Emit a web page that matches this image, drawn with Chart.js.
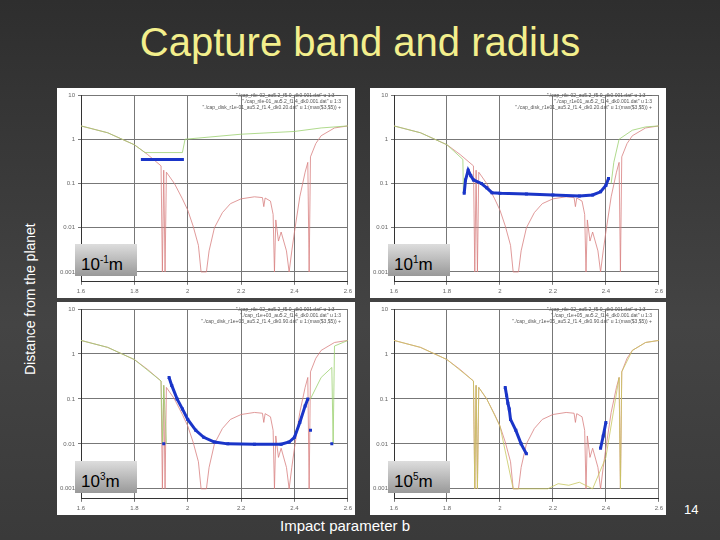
<!DOCTYPE html>
<html><head><meta charset="utf-8">
<script src="https://cdn.jsdelivr.net/npm/chart.js@4"></script>
<style>
body{margin:0;width:720px;height:540px;background:linear-gradient(#2e2e2e,#444 60%,#3a3a3a);font-family:"Liberation Sans",Arial,sans-serif;position:relative;overflow:hidden}
.t{position:absolute;color:#fff}
.p{position:absolute;background:#fff}
.lab{position:absolute;left:18px;bottom:22px;width:56px;height:32px;background:linear-gradient(#ddd,#999);font-size:17px;line-height:32px;padding-left:6px;color:#000}
.lg{position:absolute;right:14px;top:4px;font-size:5px;color:#555;text-align:right;line-height:6px}
</style></head><body>
<div class="t" style="left:0;width:720px;top:20px;text-align:center;font-size:40px;color:#f3ef8c">Capture band and radius</div>
<div class="t" style="left:22px;top:375px;transform:rotate(-90deg);transform-origin:0 0;font-size:14px;white-space:nowrap">Distance from the planet</div>
<div class="t" style="left:280px;top:517px;font-size:15px">Impact parameter b</div>
<div class="t" style="left:684px;top:502px;font-size:13px">14</div>
<div class="p" style="left:57px;top:88px;width:298px;height:210px"><canvas id="c1"></canvas><div class="lab">10<sup style="font-size:10px">-1</sup>m</div><div class="lg">"./cap_rile-02_au5.2_f5.0_dk0.001.dat" u 1:3 —<br>"./cap_rile-01_au5.2_f1.4_dk0.001.dat" u 1:3<br>"./cap_disk_r1e-01_au5.2_f1.4_dk0.20.dat" u 1:(max($3,$5)) +</div></div>
<div class="p" style="left:370px;top:88px;width:296px;height:210px"><canvas id="c2"></canvas><div class="lab">10<sup style="font-size:10px">1</sup>m</div><div class="lg">"./cap_rile-02_au5.2_f5.0_dk0.001.dat" u 1:3 —<br>"./cap_r1e01_au5.2_f1.4_dk0.001.dat" u 1:3<br>"./cap_disk_r1e01_au5.2_f1.4_dk0.20.dat" u 1:(max($3,$5)) +</div></div>
<div class="p" style="left:57px;top:302px;width:298px;height:213px"><canvas id="c3"></canvas><div class="lab">10<sup style="font-size:10px">3</sup>m</div><div class="lg">"./cap_rile-02_au5.2_f5.0_dk0.001.dat" u 1:3 —<br>"./cap_r1e+03_au5.2_f1.4_dk0.001.dat" u 1:3<br>"./cap_disk_r1e+03_au5.2_f1.4_dk0.90.dat" u 1:(max($3,$5)) +</div></div>
<div class="p" style="left:370px;top:302px;width:296px;height:213px"><canvas id="c4"></canvas><div class="lab">10<sup style="font-size:10px">5</sup>m</div><div class="lg">"./cap_rile-02_au5.2_f5.0_dk0.001.dat" u 1:3 —<br>"./cap_r1e+05_au5.2_f1.4_dk0.001.dat" u 1:3<br>"./cap_disk_r1e+05_au5.2_f1.4_dk0.90.dat" u 1:(max($3,$5)) +</div></div>
<script>
// red: reference curve, same in every panel
const redX = [1.6,1.7,1.8,1.85,1.9,1.905,1.91,1.915,1.92,1.95,1.98,2.0,2.02,2.04,2.05,2.07,2.08,2.1,2.13,2.16,2.2,2.25,2.28,2.285,2.29,2.31,2.32,2.325,2.33,2.34,2.35,2.37,2.38,2.39,2.4,2.42,2.44,2.45,2.455,2.46,2.48,2.5,2.55,2.6];
const redY = [2,1.4,0.75,0.45,0.25,0.001,0.2,0.001,0.18,0.1,0.045,0.025,0.011,0.004,0.001,0.001,0.003,0.01,0.022,0.035,0.045,0.05,0.048,0.03,0.047,0.04,0.02,0.001,0.015,0.005,0.008,0.003,0.001,0.003,0.008,0.05,0.18,0.3,0.001,0.4,0.8,1.2,1.8,2];

const g1X = [1.6,1.7,1.8,1.84,1.98,1.99,2.2,2.4,2.5,2.6];
const g1Y = [2,1.4,0.75,0.5,0.5,1.0,1.3,1.5,1.8,2];
const b1X = [1.83,1.98];
const b1Y = [0.35,0.35];

const g2X = [1.6,1.7,1.8,1.86,1.862,1.87,2.41,2.42,2.43,2.45,2.5,2.55,2.6];
const g2Y = [2,1.4,0.75,0.35,0.06,null,null,0.1,0.3,1.0,1.6,1.9,2];
const b2X = [1.865,1.87,1.88,1.89,1.9,1.93,1.95,1.97,2.0,2.1,2.2,2.3,2.35,2.38,2.4,2.41];
const b2Y = [0.06,0.12,0.2,0.15,0.12,0.1,0.08,0.062,0.06,0.058,0.055,0.052,0.055,0.065,0.09,0.13];

const g3X = [1.6,1.7,1.8,1.9,1.905,1.91,1.92,1.93,2.45,2.46,2.5,2.54,2.545,2.55,2.6];
const g3Y = [2,1.4,0.75,0.25,0.01,0.2,0.01,null,null,0.1,0.3,0.5,0.01,1.5,2];
const b3X = [1.91,null,1.93,1.94,1.96,1.98,2.0,2.03,2.06,2.1,2.15,2.25,2.35,2.38,2.4,2.42,2.44,2.45,null,2.46,null,2.54];
const b3Y = [0.01,null,0.3,0.2,0.1,0.06,0.035,0.02,0.014,0.011,0.01,0.0098,0.0098,0.011,0.014,0.03,0.07,0.1,null,0.02,null,0.01];

const g4X = [1.6,1.7,1.8,1.9,1.905,1.91,1.915,1.92,1.95,2.0,2.05,2.18,2.22,2.26,2.3,2.35,2.4,2.45,2.455,2.46,2.5,2.55,2.6];
const g4Y = [2,1.4,0.75,0.25,0.001,0.2,0.001,0.18,0.1,0.025,0.001,0.001,0.0013,0.0012,0.0014,0.001,0.005,0.3,0.001,0.4,1.2,1.8,2];
const b4X = [2.02,2.025,2.03,2.035,2.04,2.06,2.08,2.1,null,2.38,2.39,2.4];
const b4Y = [0.18,0.12,0.08,0.06,0.035,0.02,0.01,0.006,null,0.008,0.015,0.03];

const xTicks = [1.6,1.8,2,2.2,2.4,2.6];
const yTicks = [0.001,0.01,0.1,1,10];

function pts(xs, ys){ return xs.map((x,i)=>({x:x,y:ys[i]})); }

function panel(id, gx, gy, bx, by, gcol){
  new Chart(document.getElementById(id), {
    type:'line',
    data:{datasets:[
      {data:pts(bx,by), borderColor:'#1a35c8', backgroundColor:'#1a35c8', borderWidth:3, pointRadius:1.5, pointStyle:'cross', spanGaps:false},
      {data:pts(gx,gy), borderColor:gcol, borderWidth:0.8, pointRadius:0, spanGaps:false},
      {data:pts(redX,redY), borderColor:'#d88080', borderWidth:0.8, pointRadius:0}
    ]},
    options:{animation:false, responsive:true, maintainAspectRatio:false,
      layout:{padding:{top:2,right:4}},
      plugins:{legend:{display:false},tooltip:{enabled:false}},
      scales:{
        x:{type:'linear', min:1.6, max:2.6, afterBuildTicks:a=>{a.ticks=xTicks.map(v=>({value:v}));},
          grid:{color:'#777', borderDash:[3,3], tickLength:3}, border:{color:'#333'},
          ticks:{font:{size:6}, color:'#666', callback:v=>String(v)}},
        y:{type:'logarithmic', min:0.0006, max:10, afterBuildTicks:a=>{a.ticks=yTicks.map(v=>({value:v}));},
          grid:{color:'#777', borderDash:[3,3], tickLength:3}, border:{color:'#333'},
          ticks:{font:{size:6}, color:'#666', callback:v=>String(v)}}
      }}
  });
}
panel('c1', g1X, g1Y, b1X, b1Y, '#9cd070');
panel('c2', g2X, g2Y, b2X, b2Y, '#9cd070');
panel('c3', g3X, g3Y, b3X, b3Y, '#9cd070');
panel('c4', g4X, g4Y, b4X, b4Y, '#c8c860');
</script>
</body></html>
